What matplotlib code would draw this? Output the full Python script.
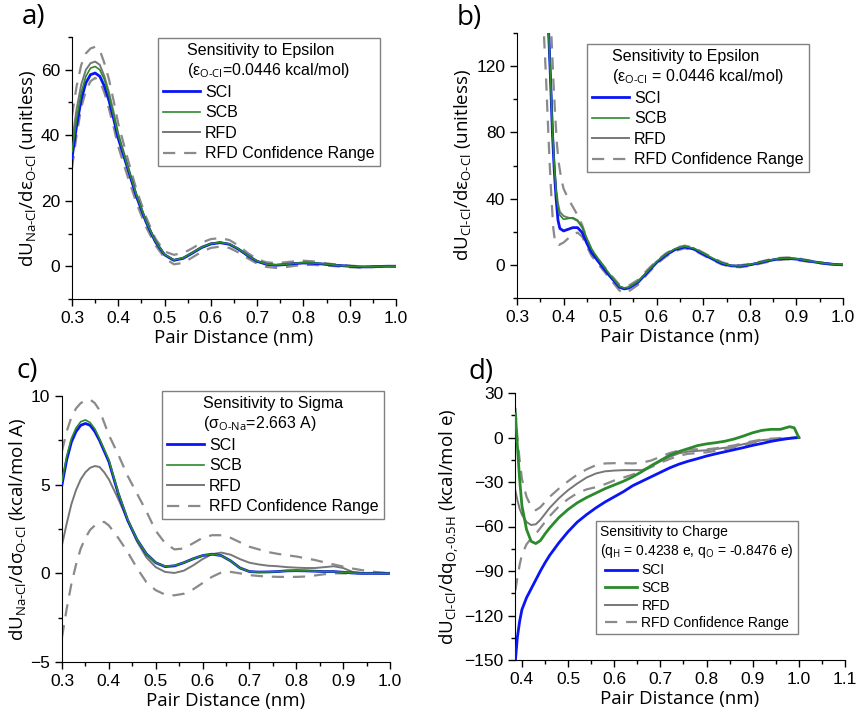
import matplotlib
matplotlib.use('Agg')
import matplotlib.pyplot as plt
from matplotlib.ticker import MultipleLocator

plt.rcParams['font.family'] = 'Liberation Sans'
plt.rcParams['mathtext.fontset'] = 'custom'
plt.rcParams['mathtext.rm'] = 'Open Sans'
plt.rcParams['mathtext.it'] = 'Open Sans:italic'
plt.rcParams['mathtext.sf'] = 'Open Sans'

# ---- painel a) Na-Cl, epsilon
x_a = [0.30, 0.31, 0.32, 0.33, 0.34, 0.35, 0.36, 0.37, 0.38, 0.39, 0.40, 0.42, 0.44, 0.46,
       0.48, 0.50, 0.52, 0.54, 0.56, 0.58, 0.60, 0.62, 0.64, 0.66, 0.68, 0.70, 0.72, 0.74,
       0.76, 0.78, 0.80, 0.82, 0.84, 0.86, 0.88, 0.90, 0.92, 0.94, 0.96, 0.98, 1.00]
sci_a = [33, 43, 51, 56, 58.5, 59, 58, 55, 50.5, 45, 39, 30, 21, 13.5, 7.5, 3.5, 1.8, 2.4,
         4.0, 5.7, 6.8, 7.2, 6.7, 5.2, 3.2, 1.5, 0.6, 0.3, 0.5, 0.8, 1.0, 0.9, 0.7, 0.4, 0.2,
         0.0, -0.2, -0.2, -0.1, 0.0, 0.0]
scb_a = [35, 45, 53, 58, 60.5, 61, 60, 57, 52, 46, 40, 30.5, 21.5, 13.8, 7.7, 3.6, 1.9, 2.5,
         4.1, 5.8, 6.9, 7.3, 6.8, 5.3, 3.3, 1.6, 0.7, 0.4, 0.6, 0.9, 1.1, 1.0, 0.8, 0.5, 0.2,
         0.0, -0.1, -0.2, -0.1, 0.0, 0.0]
rfd_a = [38, 48, 55.5, 60, 62, 62.5, 61.5, 58, 53, 47, 40.5, 31, 21.5, 13.8, 7.7, 3.5, 1.9,
         2.6, 4.2, 5.9, 7.0, 7.3, 6.8, 5.2, 3.2, 1.5, 0.6, 0.4, 0.6, 0.9, 1.0, 0.9, 0.7, 0.4,
         0.2, 0.0, -0.1, -0.2, -0.1, 0.0, 0.0]
sup_a = [46, 55, 61.5, 65, 66.5, 67, 66, 62, 57, 50.5, 43.5, 33, 23, 15, 8.5, 4.5, 3.5, 4.0,
         5.5, 7.2, 8.3, 8.6, 8.0, 6.3, 4.0, 2.2, 1.2, 1.0, 1.2, 1.5, 1.7, 1.5, 1.1, 0.7, 0.4,
         0.2, 0.0, -0.1, 0.0, 0.0, 0.0]
inf_a = [30, 40, 48.5, 53.5, 56.5, 57.5, 56.5, 53, 48, 42.5, 36.5, 27.5, 19, 12, 6.5, 2.5,
         0.6, 1.0, 2.7, 4.4, 5.6, 6.0, 5.6, 4.2, 2.4, 0.8, -0.2, -0.5, -0.3, 0.1, 0.4, 0.4,
         0.3, 0.1, -0.1, -0.3, -0.4, -0.3, -0.2, -0.1, 0.0]

# ---- painel b) Cl-Cl, epsilon
x_b = [0.368, 0.372, 0.376, 0.380, 0.384, 0.388, 0.392, 0.40, 0.41, 0.42, 0.43, 0.44, 0.45,
       0.46, 0.48, 0.50, 0.52, 0.53, 0.54, 0.56, 0.58, 0.60, 0.62, 0.64, 0.66, 0.68, 0.70,
       0.72, 0.74, 0.76, 0.78, 0.80, 0.82, 0.84, 0.86, 0.88, 0.90, 0.92, 0.94, 0.96, 0.98, 1.00]
sci_b = [140, 112, 80, 57, 40, 27, 22, 20.5, 21.5, 22.5, 22.5, 19.5, 13, 7.5, 0, -7, -13.5,
         -14.5, -14, -10.5, -4.5, 1.5, 6, 9.3, 10.8, 9.5, 6.5, 3.5, 0.8, -0.6, -0.8, 0, 1.2,
         2.5, 3.5, 3.9, 3.5, 2.6, 1.7, 0.9, 0.3, 0]
scb_b = [140, 113, 83, 60, 44, 35, 30, 27.5, 28, 28.5, 27, 23, 16, 9.5, 1.5, -6, -13, -14,
         -13.5, -10, -4, 2, 6.5, 9.8, 11.2, 10, 7, 4, 1.2, -0.4, -0.6, 0.2, 1.4, 2.7, 3.7, 4.1,
         3.7, 2.8, 1.8, 1.0, 0.4, 0]
rfd_b = [140, 114, 85, 62, 46, 37, 32, 29.5, 28.5, 28, 26.5, 22.5, 15.5, 9, 1, -6.5, -13,
         -14, -13.5, -10, -4, 1.8, 6.3, 9.6, 11, 9.8, 6.8, 3.8, 1.0, -0.5, -0.7, 0.1, 1.3,
         2.6, 3.6, 4.0, 3.6, 2.7, 1.7, 0.9, 0.3, 0]
xsup_b = [0.374, 0.378, 0.382, 0.386, 0.39, 0.395, 0.40, 0.41, 0.42, 0.43, 0.44, 0.45, 0.46,
          0.48, 0.50, 0.52, 0.53, 0.54, 0.56, 0.58, 0.60, 0.62, 0.64, 0.66, 0.68, 0.70, 0.72,
          0.74, 0.76, 0.78, 0.80, 0.82, 0.84, 0.86, 0.88, 0.90, 0.92, 0.94, 0.96, 0.98, 1.00]
sup_b = [138, 112, 90, 72, 61, 52, 46, 40, 35, 30, 24, 16, 9.5, 1.5, -5.5, -12, -13, -12.5,
         -9, -3, 2.5, 7, 10.3, 11.6, 10.4, 7.4, 4.4, 1.6, 0, -0.2, 0.6, 1.8, 3.1, 4.1, 4.5,
         4.1, 3.1, 2.0, 1.1, 0.4, 0]
xinf_b = [0.358, 0.362, 0.366, 0.370, 0.374, 0.378, 0.382, 0.39, 0.40, 0.41, 0.42, 0.43,
          0.44, 0.45, 0.46, 0.48, 0.50, 0.52, 0.53, 0.54, 0.56, 0.58, 0.60, 0.62, 0.64, 0.66,
          0.68, 0.70, 0.72, 0.74, 0.76, 0.78, 0.80, 0.82, 0.84, 0.86, 0.88, 0.90, 0.92, 0.94,
          0.96, 0.98, 1.00]
inf_b = [138, 115, 88, 62, 40, 22, 13, 12, 13.5, 16, 18.5, 19.5, 17, 11, 5.5, -1.5, -8.5,
         -15.5, -17, -16, -12, -5.5, 0.5, 5, 8.4, 10, 8.8, 5.8, 2.8, 0.2, -1.2, -1.4, -0.6,
         0.6, 1.9, 2.9, 3.3, 2.9, 2.1, 1.3, 0.6, 0.2, 0]

# ---- painel c) Na-Cl, sigma
x_c = x_a
sci_c = [5.0, 6.4, 7.4, 8.0, 8.35, 8.45, 8.35, 8.0, 7.5, 6.9, 6.3, 4.5, 3.0, 1.9, 1.1, 0.6,
         0.38, 0.42, 0.6, 0.82, 1.0, 1.08, 1.0, 0.7, 0.3, 0.1, 0.07, 0.08, 0.1, 0.14, 0.15,
         0.14, 0.12, 0.1, 0.1, 0.06, 0.02, 0.0, 0.0, 0.0, 0.0]
scb_c = [5.2, 6.6, 7.6, 8.2, 8.55, 8.65, 8.5, 8.15, 7.6, 7.0, 6.4, 4.55, 3.05, 1.9, 1.1, 0.6,
         0.4, 0.44, 0.6, 0.82, 1.0, 1.08, 1.0, 0.7, 0.3, 0.1, 0.07, 0.08, 0.1, 0.14, 0.15,
         0.14, 0.12, 0.1, 0.1, 0.06, 0.02, 0.0, 0.0, 0.0, 0.0]
rfd_c = [1.6, 2.8, 3.9, 4.7, 5.3, 5.7, 5.95, 6.05, 6.0, 5.7, 5.3, 4.2, 3.0, 1.8, 0.9, 0.35,
         0.08, 0.02, 0.15, 0.45, 0.8, 1.08, 1.17, 1.05, 0.8, 0.6, 0.5, 0.43, 0.4, 0.35, 0.32,
         0.3, 0.3, 0.35, 0.4, 0.3, 0.08, 0.02, 0.0, 0.0, 0.0]
sup_c = [6.9, 8.0, 8.8, 9.3, 9.6, 9.75, 9.8, 9.6, 9.2, 8.5, 7.8, 6.7, 5.5, 4.5, 3.5, 2.4, 1.7,
         1.35, 1.4, 1.7, 2.0, 2.15, 2.15, 2.0, 1.75, 1.5, 1.35, 1.2, 1.1, 1.02, 0.95, 0.85,
         0.75, 0.62, 0.5, 0.38, 0.27, 0.18, 0.1, 0.05, 0.0]
inf_c = [-3.6, -2.0, -0.6, 0.5, 1.4, 2.0, 2.45, 2.7, 2.85, 2.9, 2.7, 2.0, 1.2, 0.3, -0.5,
         -0.95, -1.2, -1.24, -1.15, -0.9, -0.55, -0.2, 0.05, 0.08, 0.0, -0.1, -0.15, -0.18,
         -0.2, -0.2, -0.2, -0.18, -0.12, -0.05, 0.0, 0.0, 0.0, 0.0, 0.0, 0.0, 0.0]

# ---- painel d) Cl-Cl, carga
x_d = [0.386, 0.39, 0.395, 0.40, 0.41, 0.42, 0.43, 0.44, 0.45, 0.46, 0.48, 0.50, 0.52, 0.54,
       0.56, 0.58, 0.60, 0.62, 0.64, 0.66, 0.68, 0.70, 0.72, 0.74, 0.76, 0.78, 0.80, 0.82,
       0.84, 0.86, 0.88, 0.90, 0.92, 0.94, 0.96, 0.98, 0.99, 1.00]
sci_d = [-150, -135, -124, -116, -108, -102, -96, -90, -84.5, -79.5, -71, -63.5, -57, -52,
         -47.5, -43.5, -40, -36.5, -32.5, -29.5, -26.5, -23.5, -20.5, -18, -16, -14.3, -12.5,
         -11, -9.6, -8.2, -6.8, -5.3, -4.0, -2.6, -1.5, -0.6, -0.3, 0]
scb_d = [16, -5, -28, -46, -62, -70, -71.5, -69.5, -65, -61, -54, -48.5, -44, -40.5, -37.5,
         -34.5, -32, -29.5, -26.5, -23, -19, -15.5, -12, -9.5, -7.5, -5.5, -4.3, -3.5, -2.5,
         -1, 1, 3.2, 4.8, 5.5, 5.5, 7.3, 6.5, 0]
rfd_d = [-36, -42, -48, -52, -57, -59, -58.5, -55.5, -51.5, -47.5, -41, -35.5, -31, -27,
         -24.3, -22.8, -22.3, -22, -22, -22, -19.5, -16, -13, -10.7, -9.5, -9, -8.6, -7.8,
         -6.9, -6, -4.5, -3, -1.8, -1.2, -0.8, -0.4, -0.2, 0]
sup_d = [20, 0, -15, -28, -40, -46.5, -49, -47, -43.5, -40, -34.5, -29.5, -25, -21.5, -18.7,
         -17.5, -17.3, -17.3, -17.5, -17, -15.5, -13, -10.5, -8.8, -8, -8, -8, -7.3, -6.3,
         -5.3, -3.8, -2.5, -1.4, -0.8, -0.4, -0.2, -0.1, 0]
inf_d = [-103, -95, -86, -79, -72, -68, -65, -61, -57, -53, -46.5, -41.5, -37.5, -35, -33.5,
         -31.5, -29, -27, -25, -22.5, -20, -17, -14.5, -12.3, -11, -10.5, -10, -9, -7.8, -6.6,
         -5.2, -3.7, -2.4, -1.6, -1.0, -0.5, -0.2, 0]

azul = '#0a14f5'
verde = '#2b8a2b'
cinza = '#777777'
tracejado = '#8a8a8a'


def fazer_painel(ax, x, sci, scb, rfd, xsup, sup, xinf, inf, titulo_leg, nomeeixoy,
                 xlim, ylim, passo_y, menor_y, xticks, pos_leg, tam_leg=11.5, lw_scb=1.2,
                 espaco=0.34):
    ax.plot(x, sci, color=azul, lw=2.0, label='SCI', zorder=3)
    ax.plot(x, scb, color=verde, lw=lw_scb, label='SCB', zorder=4)
    ax.plot(x, rfd, color=cinza, lw=1.4, label='RFD', zorder=2)
    ax.plot(xsup, sup, color=tracejado, lw=1.6, ls=(0, (5.5, 4)), label='RFD Confidence Range')
    ax.plot(xinf, inf, color=tracejado, lw=1.6, ls=(0, (5.5, 4)))
    ax.set_xlim(xlim)
    ax.set_ylim(ylim)
    ax.set_xticks(xticks)
    ax.set_xticklabels(['%.1f' % t for t in xticks])
    ax.xaxis.set_minor_locator(MultipleLocator(0.05))
    ax.yaxis.set_major_locator(MultipleLocator(passo_y))
    ax.yaxis.set_minor_locator(MultipleLocator(menor_y))
    ax.spines['top'].set_visible(False)
    ax.spines['right'].set_visible(False)
    ax.tick_params(which='both', direction='out', labelsize=12.5, width=1)
    ax.tick_params(which='major', length=5)
    ax.tick_params(which='minor', length=3)
    ax.set_xlabel('Pair Distance (nm)', fontsize=13.5, family='Open Sans', labelpad=2)
    ax.set_ylabel(nomeeixoy, fontsize=13.5, family='Open Sans', labelpad=2)
    leg = ax.legend(title=titulo_leg, loc='upper left', bbox_to_anchor=pos_leg,
                    bbox_transform=fig.transFigure, borderaxespad=0, fontsize=tam_leg,
                    title_fontsize=tam_leg, fancybox=False, framealpha=1, edgecolor='#808080',
                    handlelength=2.3, handletextpad=0.35, labelspacing=espaco, borderpad=0.3)
    leg.get_frame().set_linewidth(1.0)
    return leg


fig = plt.figure(figsize=(8.57, 7.09), dpi=100)
ax_a = fig.add_axes([72/857, 1-299/709, 324/857, 262/709])
ax_b = fig.add_axes([517/857, 1-298/709, 326/857, 265/709])
ax_c = fig.add_axes([62/857, 1-662/709, 328/857, 266/709])
ax_d = fig.add_axes([515/857, 1-660/709, 330/857, 267/709])

ticks_x = [0.3, 0.4, 0.5, 0.6, 0.7, 0.8, 0.9, 1.0]

fazer_painel(ax_a, x_a, sci_a, scb_a, rfd_a, x_a, sup_a, x_a, inf_a,
             'Sensitivity to Epsilon\n(ε$_{\\text{O-Cl}}$=0.0446 kcal/mol)',
             'dU$_{\\text{Na-Cl}}$/dε$_{\\text{O-Cl}}$ (unitless)',
             (0.3, 1.0), (-10, 70), 20, 10, ticks_x, (158/857, 1-38/709))
fazer_painel(ax_b, x_b, sci_b, scb_b, rfd_b, xsup_b, sup_b, xinf_b, inf_b,
             'Sensitivity to Epsilon\n(ε$_{\\text{O-Cl}}$ = 0.0446 kcal/mol)',
             'dU$_{\\text{Cl-Cl}}$/dε$_{\\text{O-Cl}}$ (unitless)',
             (0.3, 1.0), (-20, 140), 40, 20, ticks_x, (587/857, 1-44/709))
fazer_painel(ax_c, x_c, sci_c, scb_c, rfd_c, x_c, sup_c, x_c, inf_c,
             'Sensitivity to Sigma\n(σ$_{\\text{O-Na}}$=2.663 A)',
             'dU$_{\\text{Na-Cl}}$/dσ$_{\\text{O-Cl}}$ (kcal/mol A)',
             (0.3, 1.0), (-5, 10), 5, 2.5, ticks_x, (162/857, 1-391/709))
fazer_painel(ax_d, x_d, sci_d, scb_d, rfd_d, x_d, sup_d, x_d, inf_d,
             'Sensitivity to Charge\n(q$_{\\text{H}}$ = 0.4238 e, q$_{\\text{O}}$ = -0.8476 e)',
             'dU$_{\\text{Cl-Cl}}$/dq$_{\\text{O,-0.5H}}$ (kcal/mol e)',
             (0.385, 1.1), (-150, 30), 30, 15, [0.4, 0.5, 0.6, 0.7, 0.8, 0.9, 1.0, 1.1],
             (596/857, 1-521/709), tam_leg=10, lw_scb=2.0, espaco=0.26)

for letra, px, py in [('a)', 22, 17), ('b)', 457, 18), ('c)', 17, 371), ('d)', 468, 372)]:
    fig.text(px/857, 1-py/709, letra, fontsize=20, family='Open Sans', va='center', ha='left')

fig.savefig('out.png', dpi=100)
